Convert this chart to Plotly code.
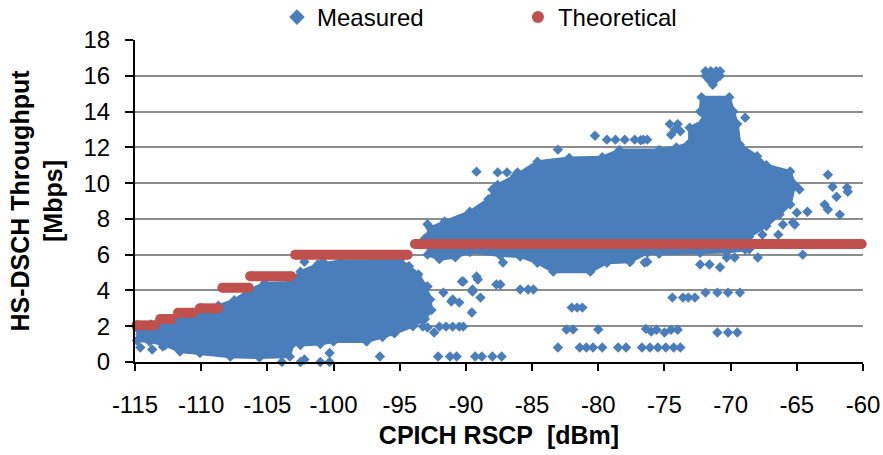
import plotly.graph_objects as go

# Theoretical HS-DSCH throughput: one flat step per CQI region
theo_start = [-114.9, -113.1, -111.75, -110.1, -108.4, -106.3, -102.9, -93.85]
theo_end = [-113.5, -112.2, -110.6, -108.7, -106.4, -103.2, -94.4, -60.1]
theo_level = [2.05, 2.4, 2.75, 3.0, 4.15, 4.8, 6.0, 6.6]

# Outline of the dense low-RSCP cloud of measured samples
low_cloud_x = [-114.85, -113.8, -112.7, -111.6, -110.1, -108.7, -107.5, -106.3, -105.2,
               -103.3, -102.5, -101.2, -99.5, -97.0, -95.0, -94.3, -93.6, -93.0, -92.7, -92.6,
               -93.1, -94.0, -95.4, -96.3, -97.5, -100.0, -101.0, -102.5, -103.1, -103.3,
               -105.6, -107.8, -110.1, -111.6, -112.7, -113.9, -114.85]
low_cloud_y = [1.9, 2.1, 2.35, 2.6, 2.9, 3.15, 3.45, 4.05, 4.4,
               4.45, 5.05, 5.45, 5.65, 5.7, 5.7, 5.35, 4.9, 4.2, 3.5, 2.9,
               2.4, 2.0, 1.6, 1.4, 1.15, 1.15, 1.0, 0.95, 1.0, 0.3,
               0.25, 0.3, 0.5, 0.59, 0.95, 1.15, 1.2]

# Outline of the dense high-RSCP cloud of measured samples
high_cloud_x = [-93.1, -92.7, -91.6, -89.7, -88.3, -87.6, -86.3, -84.6, -82.2, -79.7,
                -78.4, -75.4, -74.1, -73.1, -73.1, -72.0, -72.3, -72.2, -70.1, -69.8,
                -69.5, -69.3, -68.0, -67.3, -65.5, -65.15, -65.5, -66.3, -67.3, -68.6,
                -68.6, -70.3, -72.3, -75.4, -76.3, -77.6, -79.35, -80.6, -83.4, -84.6,
                -85.9, -87.4, -89.7, -90.8, -92.0, -92.9]
high_cloud_y = [6.9, 7.5, 7.85, 8.4, 9.1, 9.9, 10.4, 11.2, 11.4, 11.45,
                11.85, 11.85, 12.0, 12.25, 13.1, 13.5, 14.0, 14.8, 14.8, 14.0,
                13.3, 12.15, 11.5, 11.0, 10.65, 9.9, 8.8, 8.25, 7.6, 7.0,
                6.3, 6.15, 6.1, 6.05, 6.1, 5.6, 5.55, 5.05, 5.05, 5.55,
                5.9, 5.95, 6.15, 5.85, 5.75, 6.0]

# Individual measured samples lying outside the dense clouds
meas_x = [
    -114.6, -114.6, -113.7, -113.7, -112.9, -111.45,
    -106.7, -105.7, -102.2, -100.8,
    -103.9, -102.5, -101.0, -102.2, -100.3, -100.3, -96.5,
    -92.4, -93.25, -92.0, -91.5, -91.0, -90.5, -90.2, -92.9, -93.3,
    -92.1, -91.2, -90.7, -89.3, -88.8, -88.0, -87.3,
    -93.7, -92.9, -91.7, -91.1, -90.5, -90.2, -89.1, -89.5, -88.9, -89.55, -87.7, -87.4,
    -91.0, -90.3, -89.5,
    -85.9, -85.3, -84.9,
    -82.0, -81.6, -81.2,
    -82.4, -81.9, -80.0, -76.4, -76.0, -75.6, -75.0, -74.5, -74.0, -71.0, -70.2, -69.5,
    -83.05, -81.4, -80.9, -80.4, -79.7, -78.5, -77.9, -76.7, -76.1, -75.5, -74.9, -74.3, -73.8,
    -74.4, -73.6, -73.2, -72.7,
    -71.9, -71.0, -70.2, -69.3,
    -72.3, -71.6, -70.8,
    -70.3, -69.7, -67.95, -76.3, -64.55,
    -68.9, -67.6, -66.4, -66.05, -65.15,
    -62.65, -62.3, -62.0, -61.2, -61.15, -62.9, -62.65, -61.75, -64.2, -65.0, -64.8, -65.3,
    -71.9, -71.5, -71.1, -70.8, -71.9, -71.5, -71.1, -70.8, -71.6, -71.2, -71.35,
    -68.9, -76.8, -76.3, -74.6, -74.0, -74.5, -73.8, -74.2,
    -80.25, -79.35, -78.7, -78.0, -77.25, -76.6, -83.05,
    -89.2, -87.6, -86.9, -86.1, -88.0, -87.4, -92.6, -92.9,
    -87.2, -76.5, -77.6, -89.2,
]
meas_y = [
    1.54, 0.81, 1.37, 0.7, 0.87, 0.87,
    3.5, 3.77, 5.6, 5.6,
    0.0, 0.0, 0.0, 0.14, 0.5, 0.0, 0.31,
    1.65, 1.98, 1.98, 1.98, 1.98, 1.98, 1.98, 1.93, 2.37,
    0.31, 0.31, 0.31, 0.31, 0.31, 0.31, 0.31,
    4.78, 4.22, 3.88, 3.38, 3.32, 4.5, 4.61, 3.94, 3.6, 2.77, 4.33, 4.33,
    3.49, 4.5, 4.05,
    4.05, 4.05, 4.05,
    3.04, 3.04, 3.04,
    1.82, 1.82, 1.82, 1.85, 1.7, 1.8, 1.65, 1.8, 1.8, 1.65, 1.65, 1.65,
    0.81, 0.81, 0.81, 0.81, 0.81, 0.81, 0.81, 0.81, 0.81, 0.81, 0.81, 0.81, 0.81,
    3.6, 3.6, 3.6, 3.6,
    3.88, 3.88, 3.88, 3.88,
    5.45, 5.45, 5.3,
    5.84, 5.84, 5.84, 5.6, 6.0,
    6.28, 7.12, 7.12, 7.68, 7.68,
    10.47, 9.8, 9.24, 9.75, 9.52, 8.8, 8.52, 8.24, 8.4, 8.35, 9.64, 7.8,
    16.25, 16.25, 16.25, 16.25, 16.0, 16.0, 16.0, 16.0, 15.75, 15.75, 15.5,
    13.66, 12.4, 12.43, 13.3, 13.3, 12.7, 12.9, 13.0,
    12.65, 12.43, 12.43, 12.43, 12.43, 12.43, 11.87,
    10.64, 10.6, 10.6, 10.6, 9.64, 9.64, 7.4, 7.7,
    5.56, 5.56, 5.6, 4.78,
]

x_ticks = [-115, -110, -105, -100, -95, -90, -85, -80, -75, -70, -65, -60]
y_ticks = [0, 2, 4, 6, 8, 10, 12, 14, 16, 18]

BLUE = "#4a7ebb"
RED = "#c0504d"
FONT = "Liberation Sans, Arial, sans-serif"

fig = go.Figure()

# dense clouds: filled outline, with a sample marker on every outline vertex
for cx, cy in ((low_cloud_x, low_cloud_y), (high_cloud_x, high_cloud_y)):
    fig.add_trace(go.Scatter(
        x=cx, y=cy, mode="lines+markers", fill="toself", fillcolor=BLUE,
        line=dict(color=BLUE, width=3),
        marker=dict(symbol="diamond", size=8, color=BLUE),
        showlegend=False, hoverinfo="skip", cliponaxis=False,
    ))

fig.add_trace(go.Scatter(
    x=meas_x, y=meas_y, mode="markers", name="Measured",
    marker=dict(symbol="diamond", size=8, color=BLUE),
    cliponaxis=False,
))

# each theoretical step drawn as a thick segment
seg_x, seg_y = [], []
for s, e, v in zip(theo_start, theo_end, theo_level):
    seg_x += [s, e, None]
    seg_y += [v, v, None]
fig.add_trace(go.Scatter(
    x=seg_x, y=seg_y, mode="lines", line=dict(color=RED, width=10),
    showlegend=False, hoverinfo="skip", cliponaxis=False,
))
fig.add_trace(go.Scatter(
    x=theo_start + theo_end, y=theo_level + theo_level, mode="markers",
    name="Theoretical", marker=dict(symbol="circle", size=10, color=RED),
    cliponaxis=False,
))

fig.update_layout(
    width=883, height=455, autosize=False,
    margin=dict(l=135, r=20, t=40, b=92.5, autoexpand=False),
    plot_bgcolor="white", paper_bgcolor="white",
    font=dict(family=FONT, size=24, color="black"),
    legend=dict(
        orientation="h", xref="paper", yref="paper",
        x=0.195, xanchor="left", y=1.0, yanchor="bottom",
        entrywidth=196, font=dict(size=24), itemsizing="constant",
        bgcolor="rgba(0,0,0,0)",
    ),
)
fig.update_xaxes(
    range=[-115, -60], tickvals=x_ticks, ticktext=[str(v) for v in x_ticks],
    showgrid=False, zeroline=False,
    showline=True, linecolor="black", linewidth=2,
    ticks="outside", ticklen=7, tickwidth=2, tickcolor="black",
    tickfont=dict(size=24), ticklabelstandoff=13,
    title=dict(text="<b>CPICH RSCP\u00a0 [dBm]</b>", font=dict(size=25), standoff=10),
)
fig.update_yaxes(
    range=[0, 18], tickvals=y_ticks, ticktext=[str(v) for v in y_ticks],
    showgrid=True, gridcolor="#8c8c8c", gridwidth=1.5, zeroline=False,
    showline=True, linecolor="black", linewidth=2,
    ticks="outside", ticklen=8, tickwidth=2, tickcolor="black",
    tickfont=dict(size=24), ticklabelstandoff=10,
    title=dict(text="<b>HS-DSCH Throughput<br>[Mbps]</b>", font=dict(size=25), standoff=14),
)

fig.write_html("out.html")
